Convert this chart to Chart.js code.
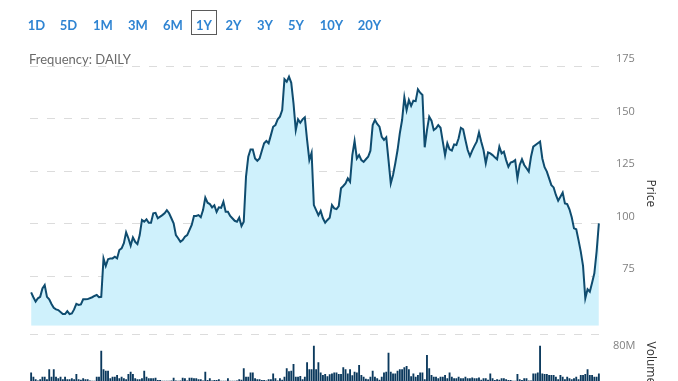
<!DOCTYPE html>
<html>
<head>
<meta charset="utf-8">
<script src="https://cdn.jsdelivr.net/npm/chart.js@4/dist/chart.umd.min.js"></script>
<style>
  html, body { margin: 0; padding: 0; background: #fff; }
  body { width: 678px; height: 381px; overflow: hidden; position: relative; }
  #c { position: absolute; left: 0; top: 0; }
  .rng { position: absolute; top: 10px; height: 25px; line-height: 30px; text-align: center; overflow: visible;
         font-family: Lato, "Open Sans", sans-serif; font-weight: 700; font-size: 13px; color: #2f84d2; box-sizing: border-box; }
  .rng.sel { border: 1px solid #5a5a5a; line-height: 28px; }
  #freq { position: absolute; left: 29px; top: 52px; font-family: Lato, "Open Sans", sans-serif; font-size: 13px;
          line-height: 15px; color: #6a6a6a; background: transparent; }
</style>
</head>
<body>
<canvas id="c" width="678" height="400"></canvas>
<div id="ranges"></div>
<div id="freq">Frequency: DAILY</div>
<script>
// ---- data ----
const rangeLabels = ['1D','5D','1M','3M','6M','1Y','2Y','3Y','5Y','10Y','20Y'];
const selectedRange = '1Y';
const priceTicks = [75, 100, 125, 150, 175];
const volumeTicks = [80];

const priceDays = [
  0,1,2,3,4,5,6,7,8,9,10,11,12,
  14,15,16,17,18,19,20,21,22,23,24,25,
  27,28,29,30,31,32,33,34,35,36,37,38,39,40,41,42,43,44,45,46,47,48,49,50,51,52,53,54,55,56,
  58,59,60,61,62,63,64,65,66,67,68,69,
  71,72,73,74,75,76,77,78,79,80,81,82,83,84,85,86,87,88,
  90,91,92,93,94,95,96,97,98,99,100,101,102,103,104,105,106,107,108,109,
  110,111,112,113,114,115,116,117,118,119,120,121,122,123,124,125,126,127,128,129,
  130,131,132,133,134,135,136,137,138,139,140,141,142,143,144,145,146,147,148,149,
  150,151,152,153,154,155,156,157,158,159,160,161,162,163,164,165,166,167,168,169,
  170,171,172,173,174,175,176,177,178,179,180,181,182,183,184,185,186,187,188,189,
  190,191,192,193,194,195,196,197,198,199,200,201,202,203,204,205,206,207,208,209,
  210,211,212,213,214,215,216,217,218,219,220,221,222,
  224,225,226,227,228,229,230,231,232,233,234,235,236,237,238,239,240,241,242,243,244,245,246,247,248,249,250,251
];
const prices = [
  67.2,64.9,62.8,64.4,65.1,69.1,70.7,65.1,63.9,61.7,59.9,59.1,58.8,
  56.9,56.9,58.3,56.9,57.2,59.1,61.7,61.2,61.5,63.9,63.9,64.0,
  64.9,65.5,66.0,64.9,65.1,83.4,79.8,83.0,83.4,83.4,84.2,83.4,87.4,88.2,90.6,95.8,93.0,89.5,93.4,91.3,90.2,94.5,101.7,100.9,102.0,100.4,100.4,104.9,105.1,102.5,
  104.0,104.9,106.4,104.9,102.5,100.1,94.5,93.0,91.3,92.1,93.7,94.5,
  99.3,103.6,103.6,104.0,103.0,106.4,112.3,109.9,109.3,107.7,108.7,105.5,107.7,107.5,110.4,105.6,105.6,103.6,
  101.3,100.9,102.8,98.8,100.9,122.3,131.8,135.3,135.3,131.0,129.9,131.0,134.7,138.2,139.3,138.2,142.1,146.1,146.9,149.6,
  150.9,154.0,168.7,167.5,169.9,167.0,157.2,144.5,149.6,148.0,149.6,150.6,139.8,130.2,133.7,108.8,106.4,104.0,106.0,102.5,
  100.4,101.7,102.8,108.8,107.2,106.9,108.3,116.8,117.9,119.1,121.5,119.9,132.6,139.3,131.0,132.6,130.2,129.4,130.6,131.8,
  134.7,146.9,149.3,147.4,146.1,141.3,139.8,141.0,130.2,119.1,123.1,128.7,135.0,143.0,149.3,160.1,154.0,158.8,156.0,158.5,
  158.3,163.9,162.3,161.2,136.3,144.5,150.9,149.0,144.5,145.3,146.9,145.6,139.0,132.6,138.2,135.3,134.7,137.7,137.4,140.6,
  145.6,144.9,139.8,135.0,132.1,134.7,137.0,139.0,143.4,139.0,135.0,128.7,133.9,133.4,132.6,131.5,130.6,136.6,133.4,134.2,
  130.2,127.0,129.0,129.4,130.2,121.5,127.9,130.6,127.9,126.3,124.7,131.8,136.6,
  138.2,139.0,131.0,126.8,124.7,121.5,118.3,117.2,113.6,110.9,112.8,114.7,109.6,109.3,106.8,103.0,97.7,97.3,92.1,86.6,79.8,64.4,68.7,67.5,71.8,76.3,86.6,100.1
];
// volume in millions, one value per trading day (day 0 .. 251)
const volumes = [
  33.7,28.7,25.5,24.1,25.5,28.7,28.7,25.5,37.8,28.7,
  37.8,28.7,26.7,28.7,25.5,28.7,25.5,25.5,26.7,25.5,
  32.0,25.5,24.8,26.7,25.5,25.5,24.1,23.8,23.8,28.7,
  28.7,60.7,37.8,36.1,36.1,26.7,28.7,28.7,30.8,26.7,
  28.7,26.7,25.5,32.0,34.9,32.0,26.7,25.5,25.5,26.7,
  36.1,28.7,26.7,26.7,26.7,27.3,24.5,24.5,23.8,23.8,
  23.8,23.8,24.1,27.3,24.1,23.8,24.1,27.3,26.7,24.1,
  27.3,27.3,26.7,26.7,25.5,25.5,24.1,34.9,24.5,26.7,
  24.1,24.5,24.5,25.5,23.8,23.8,23.8,26.7,23.8,23.8,
  23.8,24.1,25.5,24.8,39.0,28.7,28.7,33.7,33.7,26.7,
  25.5,25.5,24.5,24.5,24.1,25.5,25.5,32.6,26.7,24.1,
  26.7,24.8,28.7,39.0,35.4,36.1,44.4,28.7,28.7,29.4,
  25.5,28.7,46.4,37.8,37.8,66.6,37.8,46.4,33.7,30.8,
  32.0,29.1,31.6,32.6,33.7,33.7,32.0,31.9,40.2,37.8,
  32.6,37.8,30.5,34.9,33.7,43.1,30.8,28.7,26.2,25.5,
  28.7,36.1,28.7,26.7,24.8,28.7,33.7,34.9,58.1,34.9,
  32.6,32.6,36.1,37.8,37.8,40.2,41.8,37.8,29.1,32.6,
  28.7,30.8,33.7,33.7,25.5,55.3,39.0,30.8,28.7,28.7,
  26.7,28.7,28.7,30.8,26.9,33.7,28.7,26.7,26.7,28.7,
  26.7,26.7,28.7,26.7,26.7,27.6,26.7,26.7,27.6,24.8,
  26.7,26.7,24.8,32.6,26.7,24.5,25.5,24.8,26.7,26.7,
  25.5,24.5,24.5,23.8,23.8,32.0,25.5,24.5,26.7,26.7,
  24.1,24.1,32.6,32.6,33.7,66.6,32.6,32.0,32.0,30.8,
  30.8,30.8,28.7,25.5,30.8,28.7,25.5,28.7,26.7,25.5,
  26.7,28.7,25.5,30.8,30.8,32.0,37.8,30.8,30.8,28.7,
  28.7,32.6
];

// ---- range buttons ----
const rangeCenters = [36.5, 68.5, 103, 138, 173, 204, 233.5, 265, 296, 331.5, 369.5];
const host = document.getElementById('ranges');
rangeLabels.forEach((lab, i) => {
  const el = document.createElement('div');
  el.className = 'rng' + (lab === selectedRange ? ' sel' : '');
  const w = lab === selectedRange ? 26 : 30;
  el.style.width = w + 'px';
  el.style.left = (rangeCenters[i] - w / 2) + 'px';
  el.textContent = lab;
  host.appendChild(el);
});

// ---- chart ----
const pricePoints = priceDays.map((d, i) => ({x: d, y: prices[i]}));
const volumePoints = volumes.map((v, i) => ({x: i, y: v}));

const gridOpts = {color: '#dcdcdc', lineWidth: 1, drawTicks: false, tickLength: 0};
const borderOpts = {display: false, dash: [8, 9]};
const tickFont = {family: 'Open Sans', size: 11};
const titleFont = {family: 'Open Sans', size: 12};
const fitRight = s => { s.width = 78; s.paddingTop = 0; s.paddingBottom = 0; };

new Chart(document.getElementById('c'), {
  type: 'bar',
  data: {
    datasets: [
      {
        type: 'line', label: 'Price', data: pricePoints, yAxisID: 'y', xAxisID: 'x',
        borderColor: '#0f4c6f', borderWidth: 2, pointRadius: 0, tension: 0,
        fill: 'start', backgroundColor: '#cff1fc', order: 1
      },
      {
        type: 'bar', label: 'Volume', data: volumePoints, yAxisID: 'yVol', xAxisID: 'x',
        backgroundColor: '#0b395d', borderWidth: 0, barPercentage: 0.82, categoryPercentage: 1, order: 2
      }
    ]
  },
  options: {
    responsive: false,
    animation: false,
    events: [],
    layout: {padding: {left: 30, right: 0, top: 61, bottom: 0}},
    plugins: {legend: {display: false}, tooltip: {enabled: false}},
    scales: {
      x: {type: 'linear', min: -0.5, max: 251.5, offset: false, display: false},
      y: {
        type: 'linear', position: 'right', stack: 'panels', stackWeight: 264.8, weight: 0,
        min: 51.3, max: 177.4,
        afterBuildTicks: s => { s.ticks = priceTicks.map(v => ({value: v})); },
        afterFit: fitRight,
        grid: gridOpts, border: borderOpts,
        ticks: {font: tickFont, color: '#808080', padding: 16, crossAlign: 'near', labelOffset: -7,
                callback: v => String(v).padStart(3, '\u2007')},
        title: {display: true, text: 'Price', font: titleFont, color: '#333', padding: {top: 20, bottom: 0}}
      },
      yVol: {
        type: 'linear', position: 'right', stack: 'panels', stackWeight: 74.2, weight: 1,
        min: 0, max: 91.3,
        afterBuildTicks: s => { s.ticks = volumeTicks.map(v => ({value: v})); },
        afterFit: fitRight,
        grid: gridOpts, border: borderOpts,
        ticks: {font: tickFont, color: '#808080', padding: 13, crossAlign: 'near', labelOffset: 11,
                callback: v => v + 'M'},
        title: {display: true, text: 'Volume', font: titleFont, color: '#333', padding: {top: 20, bottom: 0}}
      }
    }
  }
});
</script>
</body>
</html>
